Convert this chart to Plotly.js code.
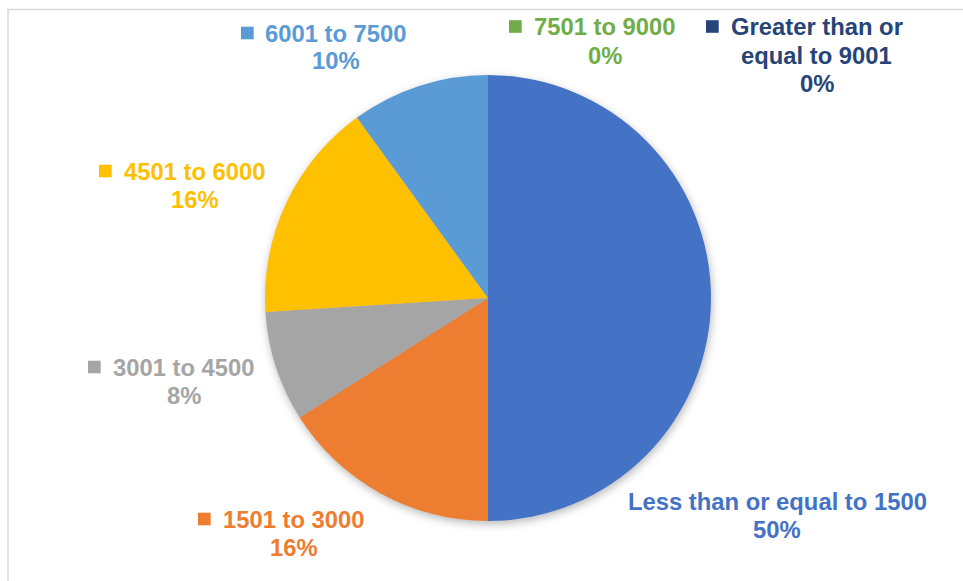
<!DOCTYPE html>
<html>
<head>
<meta charset="utf-8">
<script src="https://cdn.plot.ly/plotly-3.0.1.min.js"></script>
<style>
  html, body { margin: 0; padding: 0; background: #fff; }
  #chart { width: 963px; height: 581px; }
  .pielayer .trace { filter: drop-shadow(1px 3px 4px rgba(0,0,0,0.28)); }
</style>
</head>
<body>
<div id="chart"></div>
<script>
// ---- data ----
const categories = [
  "Less than or equal to 1500",
  "1501 to 3000",
  "3001 to 4500",
  "4501 to 6000",
  "6001 to 7500",
  "7501 to 9000",
  "Greater than or equal to 9001"
];
const values = [50, 16, 8, 16, 10, 0, 0];
const colors = ["#4472C4", "#ED7D31", "#A5A5A5", "#FFC000", "#5B9BD5", "#70AD47", "#264478"];
// category label lines as shown in the data labels
const labelLines = [
  ["Less than or equal to 1500"],
  ["1501 to 3000"],
  ["3001 to 4500"],
  ["4501 to 6000"],
  ["6001 to 7500"],
  ["7501 to 9000"],
  ["Greater than or", "equal to 9001"]
];

// ---- layout helpers (pixel positions of data-label blocks) ----
const W = 963, H = 581;
// [center x, first line center y, line spacing, key x (left), show key]
const labelPos = [
  [777, 501, 28.5, null],
  [293.5, 519, 28.5, 198],
  [183.5, 367, 28.5, 88],
  [195, 171, 28.5, 99],
  [336, 33, 28, 241],
  [605, 26.5, 28.5, 509],
  [816.5, 26.5, 28.7, 706]
];
const px = x => x / W;
const py = y => 1 - y / H;

const total = values.reduce((a, b) => a + b, 0);
const annotations = [];
const shapes = [{
  type: "rect", xref: "paper", yref: "paper",
  x0: px(8), x1: 1.02, y0: -0.02, y1: py(9.5),
  line: { color: "#D9D9D9", width: 1.5 }, fillcolor: "rgba(0,0,0,0)"
}];
const fontFam = "Liberation Sans, Arial, sans-serif";
const fs = 23.8;
categories.forEach((c, i) => {
  const [cx, cy, ls, kx] = labelPos[i];
  const lines = labelLines[i].concat([Math.round(values[i] / total * 100) + "%"]);
  lines.forEach((t, j) => {
    annotations.push({
      xref: "paper", yref: "paper", x: px(cx), y: py(cy + j * ls),
      xanchor: "center", yanchor: "middle", showarrow: false,
      text: "<b>" + t + "</b>",
      font: { family: fontFam, size: fs, color: colors[i] }
    });
  });
  if (kx !== null) {
    shapes.push({
      type: "rect", xref: "paper", yref: "paper",
      x0: px(kx), x1: px(kx + 12.7), y0: py(cy + 6.3), y1: py(cy - 6.3),
      line: { width: 0 }, fillcolor: colors[i]
    });
  }
});

const trace = {
  type: "pie",
  labels: categories,
  values: values,
  marker: { colors: colors, line: { width: 0 } },
  sort: false,
  direction: "clockwise",
  rotation: 0,
  textinfo: "none",
  hoverinfo: "label+percent",
  domain: { x: [px(488 - 223), px(488 + 223)], y: [py(521), py(75)] },
  showlegend: false
};

const layout = {
  width: W, height: H,
  margin: { l: 0, r: 0, t: 0, b: 0 },
  paper_bgcolor: "#fff",
  showlegend: false,
  annotations: annotations,
  shapes: shapes
};

Plotly.newPlot("chart", [trace], layout, { displayModeBar: false, staticPlot: true });
</script>
</body>
</html>
